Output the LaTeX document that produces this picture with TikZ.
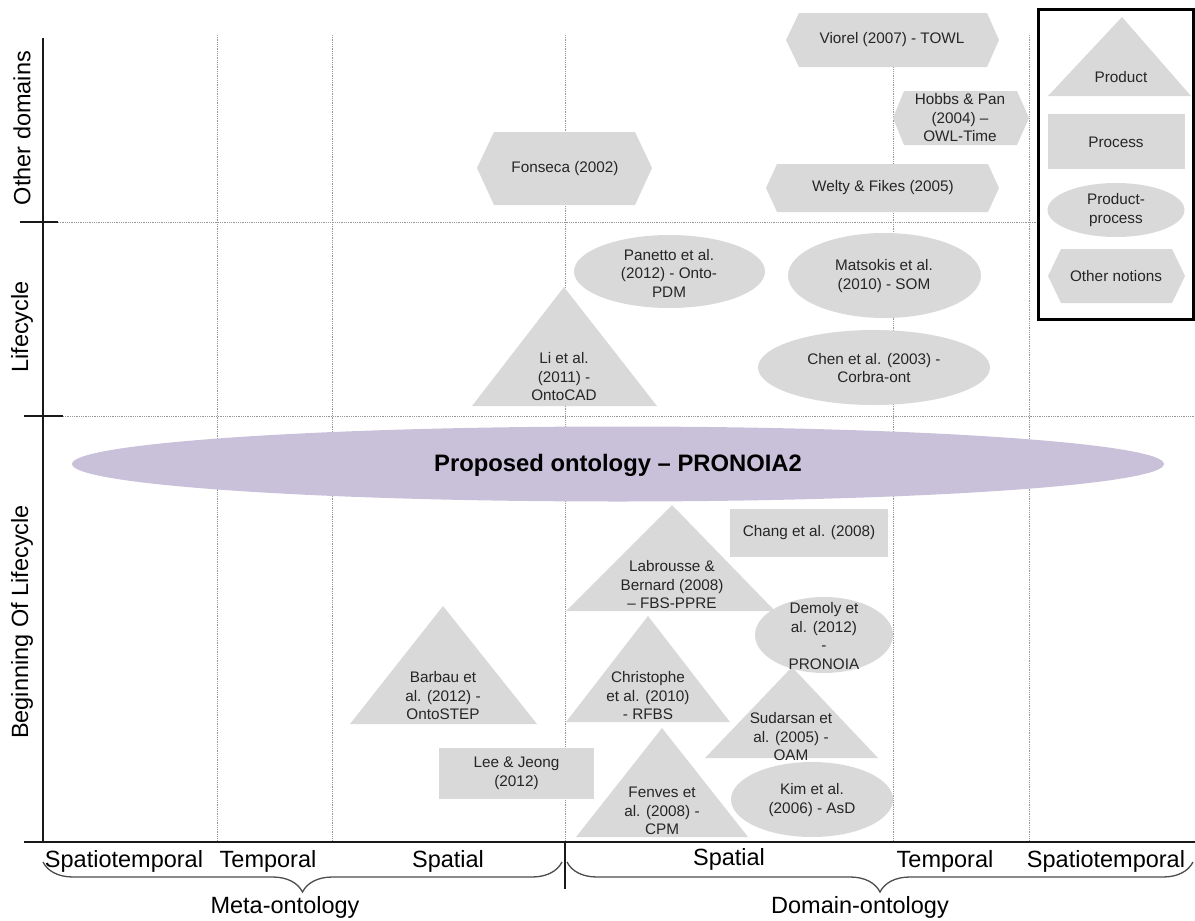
\documentclass[tikz,border=0pt]{standalone}
\usepackage{fontspec}
\setmainfont{Liberation Sans}
\usetikzlibrary{decorations.pathreplacing}
\definecolor{shapegray}{RGB}{217,217,217}
\definecolor{lilac}{RGB}{201,192,218}
\definecolor{gridgray}{RGB}{150,150,150}

\begin{document}
\begin{tikzpicture}[
  x=1pt, y=-1pt,
  grid/.style={gridgray, densely dotted, line width=0.8pt},
  axis/.style={black!90, line width=2.5pt},
  shapefill/.style={fill=shapegray},
  lbl/.style={align=center, inner sep=0pt, text=black!85, font=\fontsize{15.3}{18.5}\selectfont},
  axislbl/.style={inner sep=0pt, font=\fontsize{23.5}{28}\selectfont},
  brace/.style={decorate, decoration={brace, amplitude=30pt, mirror}, black!70, line width=1.3pt}
]
  \useasboundingbox (0,0) rectangle (1195,921);

  % Grid
  \foreach \gx in {217,332,565,893,1029}
    \draw[grid] (\gx,35) -- (\gx,842);
  \draw[grid] (58,222) -- (1038,222);
  \draw[grid] (63,416) -- (1195,416);

  % Axes
  \draw[axis] (43,38) -- (43,842);
  \draw[axis] (24,842) -- (1195,842);
  \draw[axis] (20,222) -- (58,222);
  \draw[axis] (24,416) -- (63,416);
  \draw[black!90, line width=2pt] (565,842) -- (565,889);

  \node[axislbl, rotate=90] (other) at (22,128) {Other domains};
  \node[axislbl, rotate=90] (life) at (22,327) {Lifecycle};
  \node[axislbl, rotate=90] (bol) at (22,622) {Beginning Of Lifecycle};

  \node[axislbl, anchor=base] (mst) at (124,867) {Spatiotemporal};
  \node[axislbl, anchor=base] (mt) at (268,867) {Temporal};
  \node[axislbl, anchor=base] (ms) at (448,867) {Spatial};
  \node[axislbl, anchor=base] (ds) at (729,865) {Spatial};
  \node[axislbl, anchor=base] (dt) at (945,867) {Temporal};
  \node[axislbl, anchor=base] (dst) at (1106,867) {Spatiotemporal};

  \draw[brace] (43,862) -- (562,862);
  \draw[brace] (567,862) -- (1193,862);
  \node[axislbl, anchor=base] (meta) at (285,913) {Meta-ontology};
  \node[axislbl, anchor=base] (domain) at (860,913) {Domain-ontology};

  % Other domains
  \fill[shapefill] (786,40) -- (799,13) -- (987,13) -- (999,40) -- (987,67) -- (799,67) -- cycle;
  \node[lbl] (viorel) at (892,40) {Viorel (2007) - TOWL};
  \fill[shapefill] (893,118) -- (904,91) -- (1017,91) -- (1029,118) -- (1017,145) -- (904,145) -- cycle;
  \node[lbl] (hobbs) at (960,118) {Hobbs \& Pan\\(2004) –\\OWL-Time};
  \fill[shapefill] (766,188) -- (777,164) -- (988,164) -- (999,188) -- (988,212) -- (777,212) -- cycle;
  \node[lbl] (welty) at (883,188) {Welty \& Fikes (2005)};
  \fill[shapefill] (477,168) -- (494,132) -- (635,132) -- (652,168) -- (635,205) -- (494,205) -- cycle;
  \node[lbl] (fonseca) at (565,169) {Fonseca (2002)};

  % Lifecycle
  \fill[shapefill] (669.5,271.5) ellipse [x radius=95.5, y radius=36.5];
  \node[lbl] (panetto) at (669,273) {Panetto et al.\\(2012) - Onto-\\PDM};
  \fill[shapefill] (884.5,275.5) ellipse [x radius=96.5, y radius=42.5];
  \node[lbl] (matsokis) at (884,276) {Matsokis et al.\\(2010) - SOM};
  \fill[shapefill] (874,367.5) ellipse [x radius=116, y radius=37.5];
  \node[lbl] (chen) at (874,368) {Chen et al. (2003) -\\Corbra-ont};
  \fill[shapefill] (472,406) -- (564,287) -- (657,406) -- cycle;
  \node[lbl] (li) at (564,377) {Li et al.\\(2011) -\\OntoCAD};

  % Proposed ontology
  \fill[lilac] (618,464) ellipse [x radius=546, y radius=37.5];
  \node[inner sep=0pt, font=\fontsize{23.8}{28}\selectfont\bfseries] (pronoia2) at (618,465) {Proposed ontology – PRONOIA2};

  % Beginning of lifecycle
  \fill[shapefill] (350,724) -- (443,606) -- (537,724) -- cycle;
  \node[lbl] (barbau) at (443,696) {Barbau et\\al. (2012) -\\OntoSTEP};
  \fill[shapefill] (439,748) rectangle (594,799);
  \node[lbl] (lee) at (516.5,773.5) {Lee \& Jeong\\(2012)};
  \fill[shapefill] (566,611) -- (672,505) -- (775,611) -- cycle;
  \node[lbl] (labrousse) at (672,585) {Labrousse \&\\Bernard (2008)\\– FBS-PPRE};
  \fill[shapefill] (730,509) rectangle (888,557);
  \node[lbl] (chang) at (809,533) {Chang et al. (2008)};
  \fill[shapefill] (566,722) -- (648,616) -- (730,722) -- cycle;
  \node[lbl] (christophe) at (648,696) {Christophe\\et al. (2010)\\- RFBS};
  \fill[shapefill] (576,837) -- (662,728) -- (748,837) -- cycle;
  \node[lbl] (fenves) at (662,811) {Fenves et\\al. (2008) -\\CPM};
  \fill[shapefill] (705,758) -- (792,667) -- (878,758) -- cycle;
  \node[lbl] (sudarsan) at (791,737) {Sudarsan et\\al. (2005) -\\OAM};
  \fill[shapefill] (812,799.5) ellipse [x radius=81, y radius=37.5];
  \node[lbl] (kim) at (812,800) {Kim et al.\\(2006) - AsD};
  \fill[shapefill] (824,635) ellipse [x radius=69, y radius=38];
  \node[lbl] (demoly) at (824,636) {Demoly et\\al. (2012)\\-\\PRONOIA};

  % Legend
  \draw[black, line width=3pt] (1038,9) rectangle (1193,319);
  \fill[shapefill] (1048,96) -- (1122,17) -- (1191,96) -- cycle;
  \node[lbl] (product) at (1121,77) {Product};
  \fill[shapefill] (1048,114) rectangle (1185,169);
  \node[lbl] (process) at (1116,142) {Process};
  \fill[shapefill] (1116,210) ellipse [x radius=68.5, y radius=27];
  \node[lbl] (prodproc) at (1116,210) {Product-\\process};
  \fill[shapefill] (1048,276) -- (1061,249) -- (1172,249) -- (1185,276) -- (1172,303) -- (1061,303) -- cycle;
  \node[lbl] (notions) at (1116,276) {Other notions};
\end{tikzpicture}
\end{document}
